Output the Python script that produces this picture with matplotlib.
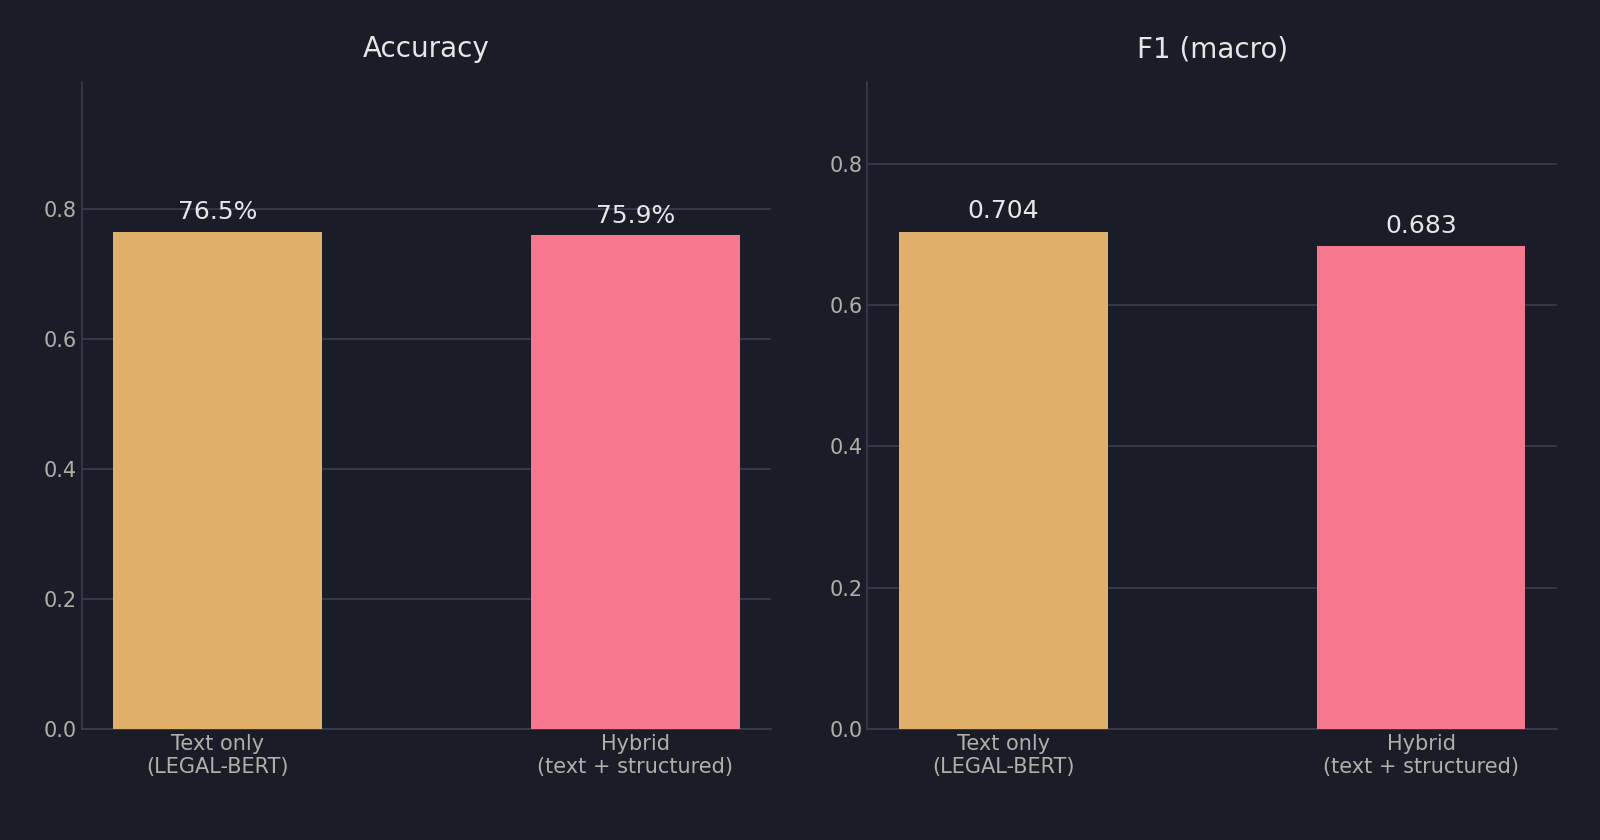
import matplotlib.pyplot as plt

models = ["Text only\n(LEGAL-BERT)", "Hybrid\n(text + structured)"]
accuracy = [0.765, 0.759]
f1_macro = [0.704, 0.683]
colors = ["#e0b06a", "#f7778f"]

bg = "#1a1c28"
fig, axes = plt.subplots(1, 2, figsize=(16, 8.4), dpi=100, facecolor=bg)
fig.subplots_adjust(left=0.051, right=0.973, top=0.902, bottom=0.132, wspace=0.14)

panels = [("Accuracy", accuracy, lambda v: f"{v*100:.1f}%"),
          ("F1 (macro)", f1_macro, lambda v: f"{v:.3f}")]

for ax, (title, vals, fmt) in zip(axes, panels):
    ax.set_facecolor(bg)
    x = range(len(models))
    bars = ax.bar(x, vals, width=0.5, color=colors, zorder=3)
    ax.set_ylim(0, max(vals) * 1.3)
    ax.set_xticks(list(x))
    ax.set_xticklabels(models)
    ax.set_title(title, color="#e6e6e6", fontsize=20, pad=18)
    ax.grid(axis="y", color="#3a3c50", lw=1.2, zorder=0)
    ax.tick_params(colors="#b0b0a8", labelsize=15, length=0)
    for s in ["top", "right"]:
        ax.spines[s].set_visible(False)
    for s in ["left", "bottom"]:
        ax.spines[s].set_color("#3a3c50")
        ax.spines[s].set_linewidth(1.2)
    for b, v in zip(bars, vals):
        ax.text(b.get_x() + b.get_width() / 2, v + 0.012, fmt(v),
                ha="center", va="bottom", color="#e6e6e6", fontsize=18)

fig.savefig("out.png", facecolor=bg)
